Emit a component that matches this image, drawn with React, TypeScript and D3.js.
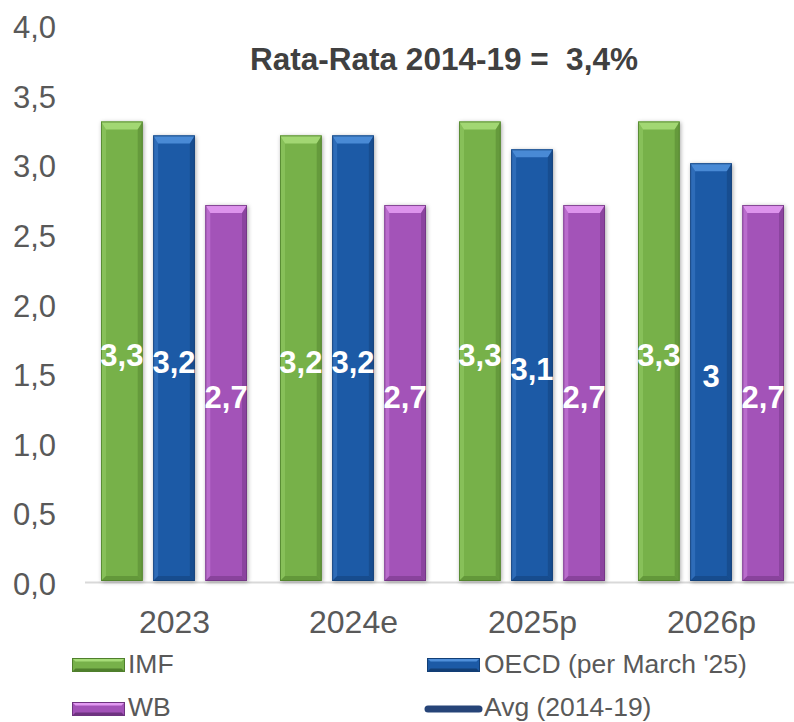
import React from "react";
import * as d3 from "d3";

const categories = ["2023", "2024e", "2025p", "2026p"];
const seriesNames = ["IMF", "OECD (per March '25)", "WB"];
const imf = [3.3, 3.2, 3.3, 3.3];
const oecd = [3.2, 3.2, 3.1, 3.0];
const wb = [2.7, 2.7, 2.7, 2.7];
const avgValue = 3.4;
const yTicks = [0, 0.5, 1, 1.5, 2, 2.5, 3, 3.5, 4];
const labelTexts = [
  ["3,3", "3,2", "3,3", "3,3"],
  ["3,2", "3,2", "3,1", "3"],
  ["2,7", "2,7", "2,7", "2,7"],
];

const colors = [
  { base: "#77b14a", light: "#a6dc78", dark: "#4f7f2c" },
  { base: "#1c5aa6", light: "#4f8fda", dark: "#123e75" },
  { base: "#a352b8", light: "#e39af2", dark: "#6f3380" },
];

export default function App() {
  const W = 794, H = 722;
  const x0 = 85, x1 = 801;
  const y = d3.scaleLinear().domain([0, 4]).range([581, 24]);
  const x = d3.scaleBand().domain(categories).range([x0, x1]).paddingInner(0).paddingOuter(0);
  const inner = d3.scaleBand().domain(["0", "1", "2"]).range([16, x.bandwidth() - 17]).paddingInner(0.2);
  const data = [imf, oecd, wb];
  const fmt = (v: number) => d3.format(".1f")(v).replace(".", ",");
  const font = "Arial, 'Liberation Sans', sans-serif";
  const bev = 5;

  const bar = (xx: number, yy: number, w: number, h: number, c: any, key: string) => (
    <g key={key}>
      <rect x={xx} y={yy} width={w} height={h} fill={c.base} filter="url(#sh)" />
      <polygon points={`${xx},${yy} ${xx + w},${yy} ${xx + w - bev},${yy + bev + 3} ${xx + bev},${yy + bev + 3}`} fill={c.light} opacity={0.9} />
      <polygon points={`${xx},${yy} ${xx + bev},${yy + bev + 3} ${xx + bev},${yy + h - bev} ${xx},${yy + h}`} fill={c.light} opacity={0.35} />
      <polygon points={`${xx + w},${yy} ${xx + w - bev},${yy + bev + 3} ${xx + w - bev},${yy + h - bev} ${xx + w},${yy + h}`} fill={c.dark} opacity={0.45} />
      <polygon points={`${xx},${yy + h} ${xx + bev},${yy + h - bev} ${xx + w - bev},${yy + h - bev} ${xx + w},${yy + h}`} fill={c.dark} opacity={0.5} />
      <rect x={xx + 0.5} y={yy + 0.5} width={w - 1} height={h - 1} fill="none" stroke={c.dark} strokeWidth={1} opacity={0.8} />
    </g>
  );

  const legendSwatch = (xx: number, yy: number, c: any, key: string) => {
    const w = 53, h = 14, b = 3.5;
    return (
      <g key={key}>
        <rect x={xx} y={yy} width={w} height={h} fill={c.base} />
        <polygon points={`${xx},${yy} ${xx + w},${yy} ${xx + w - b},${yy + b} ${xx + b},${yy + b}`} fill={c.light} />
        <polygon points={`${xx},${yy + h} ${xx + b},${yy + h - b} ${xx + w - b},${yy + h - b} ${xx + w},${yy + h}`} fill={c.dark} />
        <rect x={xx + 0.5} y={yy + 0.5} width={w - 1} height={h - 1} fill="none" stroke={c.dark} strokeWidth={1} />
      </g>
    );
  };

  const avgX1 = x(categories[0])! + x.bandwidth() / 2;
  const avgX2 = x(categories[categories.length - 1])! + x.bandwidth() / 2;

  return (
    <svg width={W} height={H} style={{ display: "block", position: "absolute", left: 0, top: 0 }} fontFamily={font}>
      <defs>
        <filter id="sh" x="-30%" y="-10%" width="160%" height="120%">
          <feDropShadow dx="1" dy="1" stdDeviation="2" floodColor="#000" floodOpacity="0.35" />
        </filter>
        <filter id="lsh" x="-10%" y="-100%" width="120%" height="400%">
          <feDropShadow dx="1" dy="2" stdDeviation="1.5" floodColor="#000" floodOpacity="0.3" />
        </filter>
      </defs>
      <rect width={W} height={H} fill="#fff" />
      {yTicks.map((t) => (
        <text key={t} x={56} y={y(t) + 14} textAnchor="end" fontSize={31} fill="#595959">
          {fmt(t)}
        </text>
      ))}
      <line x1={x0} x2={W} y1={582.5} y2={582.5} stroke="#d9d9d9" strokeWidth={2} />
      {categories.map((cat, i) =>
        data.map((s, j) => {
          const bx = x(cat)! + inner(String(j))!;
          const bw = inner.bandwidth();
          const top = y(s[i]);
          return bar(bx, top, bw, y(0) - top, colors[j], `${i}-${j}`);
        })
      )}
      <line x1={avgX1} x2={avgX2 + 2} y1={y(avgValue) + 1} y2={y(avgValue) + 1} stroke="#264478" strokeWidth={8} strokeLinecap="round" filter="url(#lsh)" />
      {categories.map((cat, i) =>
        data.map((s, j) => {
          const bx = x(cat)! + inner(String(j))! + inner.bandwidth() / 2;
          const top = y(s[i]);
          return (
            <text key={`l${i}-${j}`} x={bx} y={(top + y(0)) / 2 + 14.5} textAnchor="middle" fontSize={31} fontWeight="bold" fill="#fff">
              {labelTexts[j][i]}
            </text>
          );
        })
      )}
      {categories.map((cat) => (
        <text key={cat} x={x(cat)! + x.bandwidth() / 2} y={633} textAnchor="middle" fontSize={32} fill="#595959">
          {cat}
        </text>
      ))}
      <text x={444} y={70} textAnchor="middle" fontSize={31.5} fontWeight="bold" fill="#404040" style={{ whiteSpace: "pre" }}>
        {"Rata-Rata 2014-19 =  3,4%"}
      </text>
      {legendSwatch(72, 658, colors[0], "lg0")}
      <text x={128} y={673} fontSize={26.5} fill="#595959">{seriesNames[0]}</text>
      {legendSwatch(427, 658, colors[1], "lg1")}
      <text x={484} y={673} fontSize={26.5} fill="#595959">{seriesNames[1]}</text>
      {legendSwatch(72, 702, colors[2], "lg2")}
      <text x={128} y={716} fontSize={26.5} fill="#595959">{seriesNames[2]}</text>
      <line x1={428} x2={479} y1={709} y2={709} stroke="#264478" strokeWidth={7} strokeLinecap="round" />
      <text x={484} y={716} fontSize={26.5} fill="#595959">Avg (2014-19)</text>
    </svg>
  );
}
